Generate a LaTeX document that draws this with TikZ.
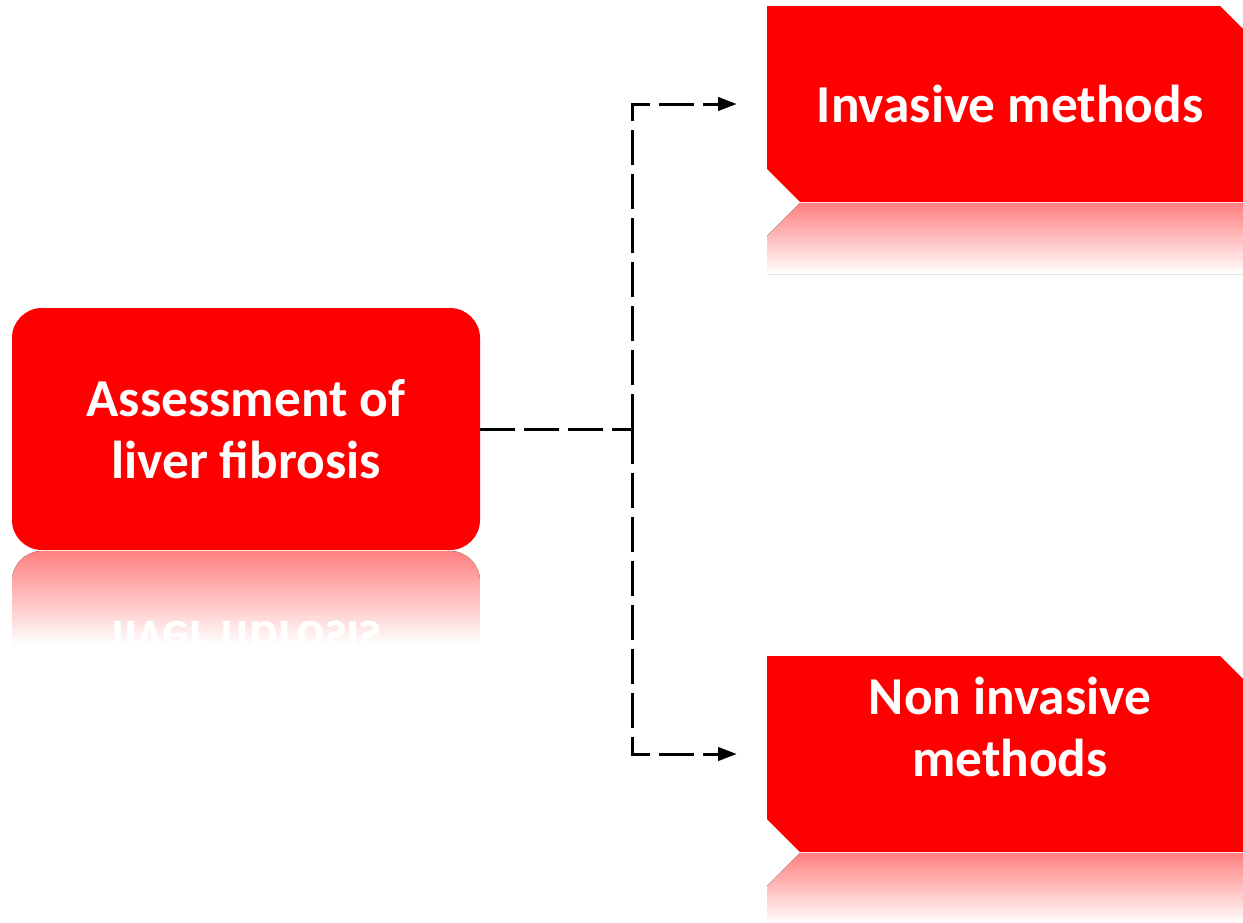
\documentclass[tikz,border=0pt]{standalone}
\usepackage{fontspec}
\setmainfont{Carlito}
\usetikzlibrary{arrows.meta}
\definecolor{boxred}{RGB}{255,0,0}
\begin{document}
\begin{tikzpicture}[x=0.75pt,y=-0.75pt,
  boxtext/.style={text=white,font=\fontsize{40}{47}\selectfont\bfseries,align=center,inner sep=0pt},
  roundbox/.style={rectangle,rounded corners=22.5pt,fill=boxred,minimum width=351pt,minimum height=181.5pt,inner sep=0pt},
  boxarea/.style={rectangle,minimum width=364.5pt,minimum height=147pt,inner sep=0pt},
  conn/.style={line width=2.25pt,dash pattern=on 26.25pt off 6.75pt},
  tip/.style={-{Triangle[length=14pt,width=10pt]}},
  refl/.style={top color=boxred!50,bottom color=white}]
\useasboundingbox (0,0) rectangle (1243,922);
\clip (0,0) rectangle (1243,922);

% reflections
\fill[refl] (800,203) -- (1253,203) -- (1253,274) -- (767,274) -- (767,236) -- cycle;
\fill[refl] (800,853) -- (1253,853) -- (1253,924) -- (767,924) -- (767,886) -- cycle;
\begin{scope}
  \clip[rounded corners=22.5pt] (12,551) rectangle (480,793);
  \fill[refl] (12,551) rectangle (480,645);
  \node[boxtext,yscale=-1] (Ar) at (246,671) {Assessment of\\liver fibrosis};
\end{scope}

% boxes
\node[roundbox,boxtext] (A) at (246,429) {Assessment of\\liver fibrosis};
\fill[boxred] (767,6) -- (1220,6) -- (1253,39) -- (1253,202) -- (800,202) -- (767,169) -- cycle;
\node[boxarea,boxtext] (B) at (1010,104) {Invasive methods};
\fill[boxred] (767,656) -- (1220,656) -- (1253,689) -- (1253,852) -- (800,852) -- (767,819) -- cycle;
\node[boxarea] (C) at (1010,754) {};
\node[boxtext] (Ct) at (1010,727) {Non invasive\\methods};

% connectors
\coordinate (J) at (632,429);
\draw[conn] (A.east) -- (J);
\draw[conn,tip] (J) |- ([xshift=-22.5pt]B.west);
\draw[conn,tip] (J) |- ([xshift=-22.5pt]C.west);
\end{tikzpicture}
\end{document}
